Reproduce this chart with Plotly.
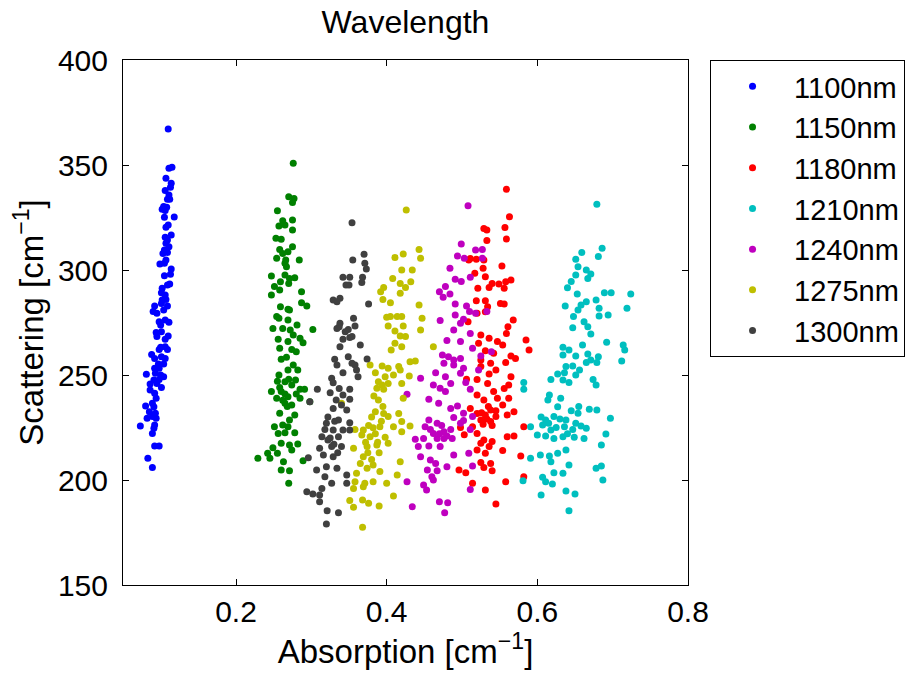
import plotly.graph_objects as go

labels = ["1100nm", "1150nm", "1180nm", "1210nm", "1240nm", "1275nm", "1300nm"]
colors = ["#0000FF", "#008000", "#FF0000", "#00BFBF", "#BF00BF", "#BFBF00", "#404040"]
xticks = [0.2, 0.4, 0.6, 0.8]
xticktext = ["0.2", "0.4", "0.6", "0.8"]
yticks = [150, 200, 250, 300, 350, 400]

x1100 = [
    0.110, 0.111, 0.115, 0.107, 0.114, 0.113, 0.106, 0.111, 0.109, 0.112,
    0.104, 0.102, 0.108, 0.106, 0.105, 0.118, 0.110, 0.107, 0.114, 0.106,
    0.109, 0.107, 0.111, 0.105, 0.103, 0.109, 0.099, 0.105, 0.107, 0.114,
    0.105, 0.113, 0.112, 0.109, 0.102, 0.101, 0.106, 0.102, 0.107, 0.101,
    0.109, 0.092, 0.090, 0.104, 0.095, 0.098, 0.106, 0.111, 0.100, 0.094,
    0.101, 0.095, 0.106, 0.110, 0.106, 0.100, 0.098, 0.109, 0.088, 0.092,
    0.101, 0.106, 0.097, 0.104, 0.092, 0.098, 0.081, 0.093, 0.100, 0.104,
    0.091, 0.098, 0.086, 0.095, 0.101, 0.086, 0.092, 0.094, 0.089, 0.080,
    0.091, 0.085, 0.093, 0.082, 0.089, 0.094, 0.092, 0.073, 0.091, 0.089,
    0.092, 0.098, 0.083, 0.089]
y1100 = [
    367.2, 348.4, 348.9, 343.7, 341.3, 339.4, 337.8, 335.7, 333.7, 333.7,
    330.2, 328.9, 329.9, 328.3, 325.1, 325.2, 321.4, 320.3, 316.7, 315.6,
    314.3, 312.7, 311.1, 309.5, 307.9, 308.3, 302.9, 303.2, 304.8, 300.5,
    297.3, 298.0, 293.3, 292.9, 291.3, 289.2, 288.1, 285.7, 286.0, 284.1,
    282.9, 282.9, 280.2, 281.0, 279.4, 275.4, 276.2, 275.1, 273.8, 270.2,
    270.6, 268.3, 267.0, 268.6, 263.5, 263.2, 262.2, 262.2, 259.8, 257.9,
    258.7, 257.9, 255.2, 255.2, 253.2, 253.2, 250.3, 250.8, 250.0, 249.2,
    247.6, 247.9, 245.7, 246.0, 244.0, 242.9, 241.3, 238.9, 236.5, 235.2,
    234.9, 232.5, 231.8, 229.4, 230.2, 229.4, 226.2, 225.7, 224.6, 222.2,
    216.2, 216.2, 210.3, 205.9]

x1150 = [
    0.276, 0.270, 0.277, 0.275, 0.255, 0.262, 0.275, 0.257, 0.265, 0.275,
    0.253, 0.260, 0.258, 0.275, 0.269, 0.262, 0.254, 0.284, 0.265, 0.267,
    0.266, 0.247, 0.265, 0.271, 0.278, 0.259, 0.251, 0.270, 0.258, 0.247,
    0.287, 0.287, 0.294, 0.259, 0.269, 0.254, 0.271, 0.257, 0.269, 0.281,
    0.249, 0.302, 0.262, 0.272, 0.256, 0.276, 0.285, 0.289, 0.269, 0.258,
    0.274, 0.280, 0.260, 0.267, 0.282, 0.276, 0.269, 0.257, 0.279, 0.265,
    0.247, 0.260, 0.274, 0.285, 0.291, 0.254, 0.269, 0.280, 0.265, 0.274,
    0.298, 0.285, 0.258, 0.278, 0.271, 0.262, 0.251, 0.269, 0.256, 0.265,
    0.278, 0.260, 0.282, 0.271, 0.249, 0.242, 0.255, 0.274, 0.229, 0.245,
    0.263, 0.289, 0.260, 0.271, 0.270,
    0.265, 0.258, 0.270, 0.262, 0.268, 0.255]
y1150 = [
    350.8, 334.9, 334.1, 332.1, 328.2, 323.5, 323.8, 321.0, 321.4, 319.0,
    315.1, 314.6, 309.8, 311.1, 308.7, 307.9, 305.6, 304.8, 303.2, 301.6,
    304.8, 297.1, 297.6, 296.0, 296.3, 294.4, 292.1, 293.6, 290.5, 288.1,
    289.7, 284.4, 282.9, 282.5, 281.3, 277.8, 281.0, 277.0, 276.2, 273.8,
    272.2, 271.7, 272.2, 271.4, 267.0, 269.0, 267.5, 265.4, 265.9, 262.7,
    262.2, 261.1, 257.5, 258.4, 252.4, 254.8, 252.4, 250.0, 247.6, 246.8,
    242.1, 242.1, 245.2, 243.2, 243.2, 238.9, 239.7, 240.9, 236.5, 235.7,
    237.3, 238.9, 231.8, 231.0, 228.6, 226.2, 225.4, 225.4, 222.2, 222.5,
    222.5, 217.5, 217.1, 216.7, 215.4, 212.7, 212.7, 214.3, 210.3, 210.3,
    208.7, 209.2, 204.8, 204.4, 198.4,
    241.0, 244.0, 248.0, 238.0, 235.0, 247.0]

x1180 = [
    0.559, 0.563, 0.529, 0.533, 0.557, 0.559, 0.533, 0.511, 0.519, 0.529,
    0.528, 0.531, 0.553, 0.517, 0.565, 0.558, 0.549, 0.540, 0.536, 0.521,
    0.556, 0.519, 0.531, 0.551, 0.556, 0.534, 0.520, 0.531, 0.568, 0.561,
    0.559, 0.525, 0.536, 0.547, 0.554, 0.522, 0.585, 0.589, 0.531, 0.542,
    0.525, 0.565, 0.571, 0.558, 0.538, 0.525, 0.545, 0.536, 0.565, 0.520,
    0.534, 0.562, 0.556, 0.542, 0.520, 0.547, 0.529, 0.562, 0.554, 0.569,
    0.538, 0.520, 0.531, 0.545, 0.525, 0.538, 0.560, 0.582, 0.514, 0.520,
    0.569, 0.529, 0.560, 0.540, 0.525, 0.536, 0.520, 0.554, 0.531, 0.578,
    0.525, 0.538, 0.529, 0.540, 0.582, 0.531, 0.558, 0.545, 0.514,
    0.509, 0.508, 0.511, 0.498, 0.496, 0.505, 0.503, 0.506,
    0.528, 0.533, 0.540, 0.545, 0.535, 0.526]
y1180 = [
    338.4, 325.4, 319.8, 319.0, 320.2, 314.8, 314.0, 305.5, 305.1, 304.8,
    300.8, 296.8, 301.9, 298.4, 295.2, 294.4, 293.3, 293.6, 291.7, 291.3,
    291.3, 285.4, 285.4, 284.1, 283.8, 282.5, 279.4, 280.1, 276.2, 273.0,
    269.8, 269.0, 267.5, 265.9, 264.3, 265.1, 266.7, 261.9, 261.6, 260.3,
    257.1, 259.0, 257.9, 255.9, 255.6, 254.0, 252.4, 250.5, 249.2, 247.9,
    246.0, 245.2, 243.6, 242.1, 240.5, 238.9, 238.1, 238.9, 235.7, 232.5,
    233.3, 231.7, 231.0, 230.2, 228.6, 227.8, 231.0, 225.4, 225.4, 222.2,
    221.0, 219.0, 220.6, 218.3, 217.5, 215.9, 214.3, 214.0, 212.7, 211.4,
    208.3, 207.9, 206.0, 204.4, 201.6, 195.2, 199.2, 188.6, 198.4,
    304.8, 275.4, 234.1, 225.0, 204.8, 203.5, 221.5, 248.0,
    226.5, 229.0, 226.0, 233.0, 235.0, 232.0]

x1210 = [
    0.679, 0.686, 0.681, 0.659, 0.651, 0.654, 0.665, 0.671, 0.667, 0.651,
    0.645, 0.640, 0.653, 0.689, 0.698, 0.724, 0.665, 0.678, 0.658, 0.637,
    0.654, 0.682, 0.719, 0.648, 0.682, 0.694, 0.662, 0.667, 0.671, 0.647,
    0.692, 0.660, 0.714, 0.716, 0.634, 0.642, 0.634, 0.651, 0.667, 0.681,
    0.671, 0.712, 0.665, 0.679, 0.647, 0.638, 0.656, 0.627, 0.636, 0.651,
    0.618, 0.634, 0.642, 0.674, 0.678, 0.582, 0.582, 0.616, 0.614, 0.631,
    0.627, 0.654, 0.645, 0.669, 0.679, 0.622, 0.611, 0.638, 0.651, 0.665,
    0.697, 0.607, 0.618, 0.636, 0.647, 0.658, 0.591, 0.600, 0.611, 0.622,
    0.634, 0.649, 0.662, 0.691, 0.685, 0.604, 0.616, 0.627, 0.638, 0.591,
    0.618, 0.642, 0.678, 0.685, 0.622, 0.634, 0.607, 0.611, 0.620, 0.687,
    0.581, 0.605, 0.638, 0.650, 0.642,
    0.615, 0.625, 0.630, 0.640, 0.605, 0.655]
y1210 = [
    331.3, 310.3, 306.4, 308.3, 305.1, 301.6, 300.0, 298.1, 296.0, 297.6,
    294.5, 291.6, 288.6, 289.2, 289.2, 288.6, 284.9, 285.7, 283.3, 282.9,
    281.0, 281.8, 281.8, 277.8, 278.1, 278.6, 275.4, 273.0, 269.5, 272.5,
    265.6, 264.3, 264.3, 261.9, 263.2, 261.9, 259.5, 259.0, 260.0, 258.7,
    257.1, 256.7, 255.9, 255.9, 254.3, 254.0, 252.4, 250.5, 251.1, 250.0,
    247.9, 247.6, 246.4, 247.9, 245.2, 246.4, 243.2, 240.5, 238.1, 238.9,
    234.9, 231.8, 233.0, 233.7, 233.3, 230.2, 228.6, 228.6, 227.0, 224.6,
    229.4, 226.2, 223.8, 225.4, 224.1, 225.7, 225.4, 221.4, 221.0, 219.8,
    220.6, 220.3, 219.8, 221.9, 216.7, 211.9, 211.4, 212.7, 214.3, 210.3,
    208.7, 207.1, 205.6, 206.7, 203.5, 203.2, 201.3, 199.2, 198.1, 200.0,
    199.7, 192.9, 194.8, 193.3, 185.4,
    227.0, 225.0, 229.0, 222.0, 230.0, 235.0]

x1240 = [
    0.508, 0.499, 0.518, 0.527, 0.494, 0.503, 0.484, 0.511, 0.491, 0.499,
    0.527, 0.470, 0.478, 0.484, 0.475, 0.491, 0.506, 0.510, 0.518, 0.533,
    0.491, 0.471, 0.498, 0.502, 0.489, 0.511, 0.480, 0.498, 0.514, 0.474,
    0.482, 0.489, 0.498, 0.525, 0.539, 0.476, 0.489, 0.502, 0.522, 0.465,
    0.478, 0.485, 0.498, 0.505, 0.462, 0.471, 0.478, 0.511, 0.445, 0.456,
    0.469, 0.485, 0.494, 0.502, 0.514, 0.456, 0.467, 0.489, 0.502, 0.451,
    0.462, 0.476, 0.487, 0.498, 0.511, 0.438, 0.449, 0.467, 0.476, 0.442,
    0.456, 0.471, 0.489, 0.509, 0.445, 0.458, 0.465, 0.480, 0.514, 0.454,
    0.467, 0.460, 0.449, 0.462, 0.453, 0.511, 0.470, 0.481, 0.477, 0.434,
    0.427, 0.427,
    0.470, 0.480, 0.458, 0.473, 0.485]
y1240 = [
    330.6, 312.4, 309.5, 309.8, 306.7, 305.6, 300.8, 296.5, 295.6, 294.5,
    305.6, 289.7, 292.1, 288.6, 287.0, 283.8, 282.9, 280.2, 279.4, 280.2,
    278.6, 275.9, 274.6, 276.5, 271.4, 269.8, 266.4, 265.9, 262.7, 259.5,
    258.7, 257.1, 257.9, 259.1, 261.1, 255.6, 254.8, 253.2, 252.4, 251.1,
    249.2, 246.0, 250.8, 246.4, 245.2, 243.7, 242.1, 243.2, 248.4, 238.4,
    236.5, 234.1, 235.2, 231.8, 230.2, 228.6, 227.0, 229.8, 228.3, 225.4,
    222.2, 223.0, 219.8, 227.0, 224.1, 219.4, 219.8, 219.8, 219.8, 215.9,
    216.2, 215.9, 211.9, 212.7, 211.1, 209.5, 207.9, 206.3, 206.7, 204.8,
    204.4, 201.6, 197.6, 200.0, 195.2, 195.5, 189.7, 189.2, 184.4, 187.3,
    240.8, 199.2,
    222.0, 221.0, 224.0, 226.0, 224.0]

x1275 = [
    0.426, 0.411, 0.422, 0.443, 0.445, 0.420, 0.434, 0.408, 0.418, 0.432,
    0.396, 0.425, 0.392, 0.418, 0.395, 0.405, 0.443, 0.400, 0.405, 0.414,
    0.420, 0.447, 0.402, 0.422, 0.445, 0.411, 0.418, 0.425, 0.411, 0.420,
    0.462, 0.406, 0.431, 0.438, 0.378, 0.394, 0.402, 0.416, 0.385, 0.398,
    0.409, 0.418, 0.430, 0.389, 0.402, 0.394, 0.420, 0.387, 0.396, 0.422,
    0.389, 0.340, 0.385, 0.396, 0.416, 0.402, 0.420, 0.358, 0.369, 0.382,
    0.391, 0.409, 0.431, 0.367, 0.378, 0.398, 0.420, 0.356, 0.374, 0.387,
    0.402, 0.369, 0.380, 0.365, 0.382, 0.418, 0.374, 0.391, 0.360, 0.414,
    0.358, 0.371, 0.382, 0.400, 0.356, 0.369, 0.409, 0.351, 0.368, 0.376,
    0.390, 0.356, 0.368,
    0.385, 0.393, 0.388, 0.376, 0.380, 0.395, 0.372, 0.383, 0.375, 0.390]
y1275 = [
    328.6, 306.0, 307.6, 309.8, 305.6, 300.0, 300.0, 296.0, 293.6, 294.4,
    291.7, 291.7, 289.7, 288.9, 286.0, 284.4, 283.3, 277.5, 277.8, 277.8,
    277.8, 277.0, 273.3, 273.3, 271.4, 270.9, 268.6, 268.3, 265.1, 263.5,
    263.5, 261.9, 256.3, 256.7, 254.8, 254.3, 253.2, 254.0, 251.1, 249.2,
    250.0, 252.4, 249.5, 246.8, 246.0, 245.2, 246.0, 243.7, 243.2, 238.9,
    238.1, 236.5, 232.5, 231.7, 231.7, 230.2, 227.8, 224.1, 223.8, 224.9,
    225.4, 225.4, 225.7, 221.4, 220.6, 220.3, 223.0, 215.1, 215.9, 216.7,
    217.5, 211.1, 209.8, 207.9, 207.1, 208.7, 205.6, 204.0, 203.2, 202.4,
    199.2, 198.4, 199.2, 198.4, 196.0, 196.8, 192.4, 190.2, 190.5, 188.9,
    187.6, 187.0, 177.5,
    222.0, 228.0, 218.0, 226.0, 230.0, 235.0, 218.0, 240.0, 213.0, 213.0]

x1300 = [
    0.354, 0.370, 0.355, 0.371, 0.373, 0.342, 0.351, 0.368, 0.346, 0.350,
    0.367, 0.329, 0.338, 0.334, 0.376, 0.356, 0.338, 0.337, 0.358, 0.349,
    0.334, 0.345, 0.354, 0.342, 0.365, 0.338, 0.351, 0.349, 0.331, 0.374,
    0.354, 0.334, 0.360, 0.358, 0.342, 0.327, 0.362, 0.329, 0.337, 0.351,
    0.342, 0.325, 0.333, 0.351, 0.340, 0.329, 0.347, 0.336, 0.351, 0.320,
    0.342, 0.329, 0.314, 0.322, 0.336, 0.351, 0.311, 0.327, 0.340, 0.316,
    0.329, 0.320, 0.334, 0.307, 0.318, 0.347, 0.327, 0.347, 0.314, 0.296,
    0.294, 0.302, 0.311, 0.311, 0.321, 0.336, 0.320,
    0.308, 0.298,
    0.325, 0.330, 0.318, 0.335, 0.322, 0.331]
y1300 = [
    322.5, 307.5, 304.8, 303.2, 300.5, 296.5, 296.5, 296.5, 292.9, 292.9,
    294.0, 285.7, 286.5, 284.9, 283.8, 277.0, 274.6, 273.0, 273.3, 271.7,
    272.2, 270.6, 268.3, 267.0, 264.3, 263.5, 267.9, 258.7, 257.5, 257.6,
    255.6, 254.8, 252.4, 254.8, 251.1, 248.4, 249.2, 246.3, 243.6, 243.2,
    240.5, 241.6, 238.1, 238.4, 235.7, 234.1, 233.3, 228.6, 227.3, 227.0,
    223.8, 223.8, 220.6, 219.0, 220.6, 223.8, 215.1, 215.9, 215.9, 211.9,
    211.1, 206.3, 205.6, 204.8, 201.6, 202.4, 198.4, 198.4, 196.0, 210.6,
    194.4, 193.3, 192.9, 189.7, 185.4, 184.4, 179.0,
    243.2, 237.3,
    220.0, 217.0, 224.0, 213.0, 230.0, 228.0]

series = [
    (x1100, y1100), (x1150, y1150), (x1180, y1180), (x1210, y1210),
    (x1240, y1240), (x1275, y1275), (x1300, y1300),
]

FONT = "Liberation Sans, Arial, Helvetica, sans-serif"

fig = go.Figure()
for name, color, (xs, ys) in zip(labels, colors, series):
    fig.add_trace(go.Scatter(
        x=xs, y=ys, mode="markers", name=name,
        marker=dict(color=color, size=7, line=dict(width=0)),
    ))

axis_common = dict(
    ticks="inside", ticklen=6, tickwidth=1, tickcolor="black",
    showline=True, linecolor="black", linewidth=1, mirror="ticks",
    showgrid=False, zeroline=False,
    tickfont=dict(size=30, color="black", family=FONT),
)

fig.update_xaxes(
    range=[0.05, 0.8], tickmode="array", tickvals=xticks, ticktext=xticktext,
    title=dict(text="Absorption [cm<sup>−1</sup>]", font=dict(size=33, family=FONT), standoff=8),
    ticklabelstandoff=0,
    **axis_common,
)
fig.update_yaxes(
    range=[150, 400], tickmode="array", tickvals=yticks,
    title=dict(text="Scattering [cm<sup>−1</sup>]", font=dict(size=33, family=FONT), standoff=4),
    ticklabelstandoff=8,
    **axis_common,
)

fig.update_layout(
    width=920, height=678,
    margin=dict(l=123, r=232, t=60, b=93, autoexpand=False),
    paper_bgcolor="white", plot_bgcolor="white",
    font=dict(family=FONT, size=30, color="black"),
    title=dict(text="Wavelength", x=0.5, xref="paper", xanchor="center",
               y=1 - 22 / 678, yref="container", yanchor="middle",
               font=dict(size=32, family=FONT)),
    legend=dict(x=1.039, xanchor="left", y=1.0, yanchor="top",
                bgcolor="white", bordercolor="black", borderwidth=1,
                font=dict(size=29, family=FONT), itemwidth=73),
    showlegend=True,
)

fig.write_html("out.html", config={"displayModeBar": False},
               post_script="document.body.style.margin='0px';")
